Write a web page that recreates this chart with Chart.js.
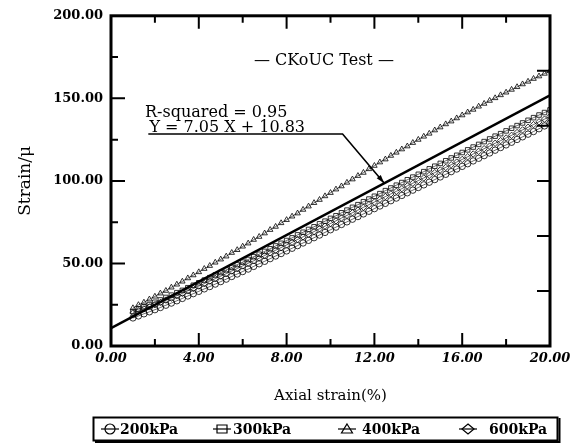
<!DOCTYPE html>
<html>
<head>
<meta charset="utf-8">
<script src="https://cdn.jsdelivr.net/npm/chart.js@4.4.0/dist/chart.umd.min.js"></script>
<style>
html, body { margin: 0; padding: 0; background: #fff; }
</style>
</head>
<body>
<canvas id="chart" width="579" height="443"></canvas>
<script>
// axial strain (%) readings, shared by all four tests
const strain = [
  1.00, 1.25, 1.50, 1.75, 2.00, 2.25, 2.50, 2.75, 3.00, 3.25, 3.50, 3.75, 4.00, 4.25, 4.50, 4.75,
  5.00, 5.25, 5.50, 5.75, 6.00, 6.25, 6.50, 6.75, 7.00, 7.25, 7.50, 7.75, 8.00, 8.25, 8.50, 8.75,
  9.00, 9.25, 9.50, 9.75, 10.00, 10.25, 10.50, 10.75, 11.00, 11.25, 11.50, 11.75, 12.00, 12.25, 12.50, 12.75,
  13.00, 13.25, 13.50, 13.75, 14.00, 14.25, 14.50, 14.75, 15.00, 15.25, 15.50, 15.75, 16.00, 16.25, 16.50, 16.75,
  17.00, 17.25, 17.50, 17.75, 18.00, 18.25, 18.50, 18.75, 19.00, 19.25, 19.50, 19.75, 20.00
];

const kpa200 = [
  17.0, 18.2, 19.5, 20.7, 22.0, 23.3, 24.7, 26.0, 27.4, 28.8, 30.3, 31.7, 33.1, 34.6, 36.0, 37.5,
  39.0, 40.5, 42.1, 43.6, 45.1, 46.6, 48.2, 49.8, 51.3, 52.9, 54.5, 56.0, 57.6, 59.2, 60.8, 62.4,
  64.0, 65.6, 67.2, 68.8, 70.4, 72.0, 73.6, 75.2, 76.8, 78.4, 80.0, 81.6, 83.2, 84.8, 86.4, 88.0,
  89.6, 91.2, 92.8, 94.4, 96.0, 97.6, 99.2, 100.8, 102.4, 104.0, 105.6, 107.2, 108.8, 110.4, 112.1, 113.7,
  115.3, 116.9, 118.6, 120.2, 121.8, 123.4, 125.1, 126.7, 128.3, 129.9, 131.6, 133.3, 135.0
];

const kpa300 = [
  21.0, 22.3, 23.8, 25.1, 26.5, 27.9, 29.4, 30.8, 32.3, 33.7, 35.3, 36.8, 38.3, 39.9, 41.4, 43.0,
  44.5, 46.1, 47.6, 49.3, 50.8, 52.4, 54.1, 55.6, 57.3, 58.9, 60.6, 62.2, 63.9, 65.5, 67.3, 68.9,
  70.6, 72.2, 74.0, 75.6, 77.3, 78.9, 80.7, 82.3, 84.0, 85.6, 87.4, 89.0, 90.7, 92.3, 94.1, 95.7,
  97.4, 99.0, 100.7, 102.3, 104.0, 105.6, 107.3, 108.9, 110.6, 112.2, 113.9, 115.5, 117.2, 118.8, 120.5, 122.1,
  123.8, 125.4, 127.1, 128.6, 130.3, 131.9, 133.5, 135.1, 136.7, 138.3, 139.9, 141.4, 143.0
];

const kpa400 = [
  23.0, 24.9, 26.4, 28.3, 30.0, 31.9, 33.5, 35.5, 37.3, 39.1, 41.1, 42.9, 44.8, 46.8, 48.6, 50.6,
  52.5, 54.3, 56.5, 58.2, 60.3, 62.2, 64.4, 66.2, 68.3, 70.4, 72.3, 74.5, 76.4, 78.5, 80.4, 82.6,
  84.6, 86.7, 88.6, 90.8, 92.8, 94.9, 96.8, 99.0, 101.0, 103.1, 105.0, 107.2, 109.2, 111.3, 113.1, 115.3,
  117.2, 119.2, 121.0, 123.1, 125.0, 126.9, 128.7, 130.7, 132.5, 134.4, 136.1, 138.0, 139.8, 141.6, 143.2, 145.1,
  146.8, 148.6, 150.2, 152.0, 153.6, 155.3, 156.9, 158.6, 160.2, 161.9, 163.4, 165.0, 166.5
];

const kpa600 = [
  20.0, 21.2, 22.5, 23.7, 25.0, 26.3, 27.8, 29.1, 30.5, 31.9, 33.4, 34.8, 36.3, 37.8, 39.3, 40.8,
  42.3, 43.8, 45.4, 46.9, 48.5, 50.1, 51.6, 53.2, 54.8, 56.4, 58.0, 59.6, 61.2, 62.8, 64.5, 66.1,
  67.7, 69.3, 71.0, 72.6, 74.2, 75.8, 77.5, 79.1, 80.7, 82.3, 84.0, 85.6, 87.2, 88.8, 90.5, 92.1,
  93.7, 95.3, 97.0, 98.6, 100.2, 101.8, 103.4, 105.0, 106.6, 108.2, 109.8, 111.4, 113.0, 114.6, 116.3, 117.9,
  119.5, 121.1, 122.8, 124.4, 126.0, 127.6, 129.3, 130.9, 132.5, 134.1, 135.8, 137.4, 139.0
];

// regression line Y = 7.05 X + 10.83
const fitX = [0, 20];
const fitY = [10.83, 151.83];

const seriesLabels = ['200kPa', '300kPa', '400kPa', '600kPa'];
const xMajor = [4, 8, 12, 16];
const xMinor = [2, 6, 10, 14, 18];
const yMajor = [50, 100, 150];
const yMinor = [25, 75, 125, 175];
const rightTicks = [33.33, 66.67, 100, 133.33, 166.67];

const serif = '"DejaVu Serif", "Liberation Serif", serif';

function pts(ys) {
  return strain.map((x, i) => ({ x: x, y: ys[i] }));
}

function series(label, ys, style) {
  return {
    label: label,
    data: pts(ys),
    pointStyle: style,
    pointRadius: 3.2,
    pointBorderWidth: 0.8,
    pointBorderColor: '#000',
    pointBackgroundColor: 'rgba(0,0,0,0)',
    borderColor: '#000',
    borderWidth: 0.6,
    showLine: true
  };
}

// little marker drawer for the legend box
function marker(ctx, style, cx, cy, r) {
  ctx.beginPath();
  if (style === 'circle') {
    ctx.arc(cx, cy, r, 0, Math.PI * 2);
  } else if (style === 'rect') {
    ctx.rect(cx - r, cy - r * 0.8, r * 2, r * 1.6);
  } else if (style === 'triangle') {
    ctx.moveTo(cx, cy - r);
    ctx.lineTo(cx + r * 1.1, cy + r * 0.8);
    ctx.lineTo(cx - r * 1.1, cy + r * 0.8);
    ctx.closePath();
  } else {
    ctx.moveTo(cx, cy - r);
    ctx.lineTo(cx + r * 1.2, cy);
    ctx.lineTo(cx, cy + r);
    ctx.lineTo(cx - r * 1.2, cy);
    ctx.closePath();
  }
  ctx.stroke();
}

const decorations = {
  id: 'decorations',
  afterDatasetsDraw(chart) {
    const { ctx, chartArea: a, scales: { x, y } } = chart;
    ctx.save();
    ctx.strokeStyle = '#000';
    ctx.fillStyle = '#000';

    // inward ticks on all four sides
    ctx.lineWidth = 2;
    ctx.beginPath();
    xMajor.forEach(v => {
      const px = x.getPixelForValue(v);
      ctx.moveTo(px, a.bottom); ctx.lineTo(px, a.bottom - 13);
      ctx.moveTo(px, a.top); ctx.lineTo(px, a.top + 13);
    });
    xMinor.forEach(v => {
      const px = x.getPixelForValue(v);
      ctx.moveTo(px, a.bottom); ctx.lineTo(px, a.bottom - 7);
      ctx.moveTo(px, a.top); ctx.lineTo(px, a.top + 7);
    });
    yMajor.forEach(v => {
      const py = y.getPixelForValue(v);
      ctx.moveTo(a.left, py); ctx.lineTo(a.left + 14, py);
    });
    yMinor.forEach(v => {
      const py = y.getPixelForValue(v);
      ctx.moveTo(a.left, py); ctx.lineTo(a.left + 7, py);
    });
    rightTicks.forEach(v => {
      const py = y.getPixelForValue(v);
      ctx.moveTo(a.right, py); ctx.lineTo(a.right - 13, py);
    });
    ctx.stroke();

    // plot frame
    ctx.lineWidth = 3;
    ctx.strokeRect(a.left, a.top, a.width, a.height);

    // annotations
    ctx.font = '16px ' + serif;
    ctx.textBaseline = 'middle';
    ctx.textAlign = 'center';
    ctx.fillText('\u2014 CKoUC Test \u2014', x.getPixelForValue(9.7), y.getPixelForValue(172.8));
    ctx.textAlign = 'left';
    ctx.fillText('R-squared = 0.95', x.getPixelForValue(1.55), y.getPixelForValue(141.4));
    ctx.fillText('Y = 7.05 X + 10.83', x.getPixelForValue(1.75), y.getPixelForValue(132.3));

    // underline + leader arrow to the fitted line
    const uy = y.getPixelForValue(128.4);
    const ux0 = x.getPixelForValue(1.7);
    const ux1 = x.getPixelForValue(10.55);
    const tipX = x.getPixelForValue(12.45);
    const tipY = y.getPixelForValue(7.05 * 12.45 + 10.83);
    ctx.lineWidth = 1.6;
    ctx.beginPath();
    ctx.moveTo(ux0, uy);
    ctx.lineTo(ux1, uy);
    ctx.lineTo(tipX, tipY);
    ctx.stroke();
    const ang = Math.atan2(tipY - uy, tipX - ux1);
    ctx.beginPath();
    ctx.moveTo(tipX, tipY);
    ctx.lineTo(tipX - 9 * Math.cos(ang - 0.3), tipY - 9 * Math.sin(ang - 0.3));
    ctx.lineTo(tipX - 9 * Math.cos(ang + 0.3), tipY - 9 * Math.sin(ang + 0.3));
    ctx.closePath();
    ctx.fill();

    // legend box under the axis title
    ctx.lineWidth = 2;
    ctx.strokeRect(93.5, 417.5, 464, 23);
    ctx.beginPath();
    ctx.moveTo(559.5, 418); ctx.lineTo(559.5, 442); ctx.lineTo(95, 442);
    ctx.stroke();
    const items = [
      { style: 'circle', cx: 110, tx: 120 },
      { style: 'rect', cx: 222, tx: 233 },
      { style: 'triangle', cx: 347, tx: 362 },
      { style: 'rectRot', cx: 468, tx: 489 }
    ];
    ctx.font = 'bold 14px ' + serif;
    ctx.textAlign = 'left';
    items.forEach((it, i) => {
      const cy = 429;
      ctx.lineWidth = 1.2;
      ctx.beginPath();
      ctx.moveTo(it.cx - 9, cy); ctx.lineTo(it.cx + 9, cy);
      ctx.stroke();
      marker(ctx, it.style, it.cx, cy, 5);
      ctx.fillText(seriesLabels[i], it.tx, cy + 1);
    });
    ctx.restore();
  }
};

new Chart(document.getElementById('chart').getContext('2d'), {
  type: 'line',
  data: {
    datasets: [
      series(seriesLabels[0], kpa200, 'circle'),
      series(seriesLabels[1], kpa300, 'rect'),
      series(seriesLabels[2], kpa400, 'triangle'),
      series(seriesLabels[3], kpa600, 'rectRot'),
      {
        label: 'fit',
        data: fitX.map((x, i) => ({ x: x, y: fitY[i] })),
        borderColor: '#000',
        borderWidth: 2.6,
        pointRadius: 0
      }
    ]
  },
  options: {
    responsive: false,
    animation: false,
    layout: { padding: { left: 0, top: 15, right: 29, bottom: 0 } },
    plugins: { legend: { display: false }, tooltip: { enabled: false } },
    scales: {
      x: {
        type: 'linear',
        min: 0,
        max: 20,
        grid: { display: false, drawTicks: false },
        border: { display: false },
        ticks: {
          stepSize: 4,
          padding: 5,
          color: '#000',
          maxRotation: 0,
          font: { family: serif, size: 13, style: 'italic', weight: 'bold' },
          callback: v => v.toFixed(2)
        },
        title: {
          display: true,
          text: 'Axial strain(%)',
          color: '#000',
          font: { family: serif, size: 15 },
          padding: { top: 0, bottom: 38 }
        },
        afterFit: s => { s.height = 97; }
      },
      y: {
        min: 0,
        max: 200,
        grid: { display: false, drawTicks: false },
        border: { display: false },
        ticks: {
          stepSize: 50,
          padding: 8,
          color: '#000',
          font: { family: serif, size: 13, weight: 'bold' },
          callback: v => v.toFixed(2)
        },
        title: {
          display: true,
          text: 'Strain/\u03bc',
          color: '#000',
          font: { family: serif, size: 17 },
          padding: { top: 15, bottom: 0 }
        },
        afterFit: s => { s.width = 111; }
      }
    }
  },
  plugins: [decorations]
});
</script>
</body>
</html>
